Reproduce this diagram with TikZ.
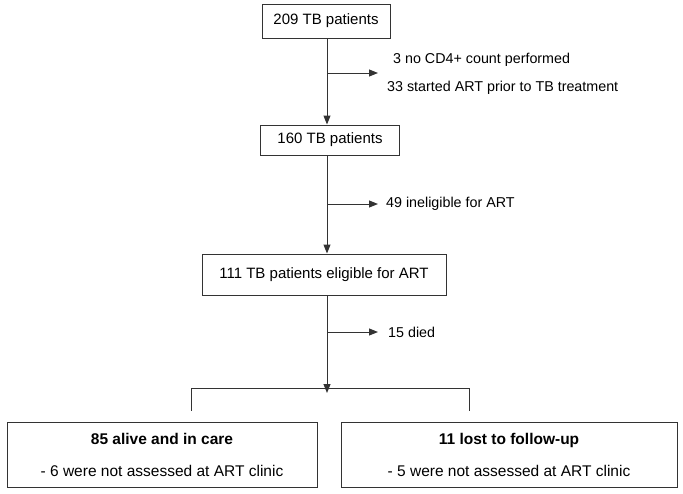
\documentclass[tikz,border=0pt]{standalone}
\usepackage{fontspec}
\setmainfont{Liberation Sans}
\usetikzlibrary{arrows.meta}

\tikzset{
  stagebox/.style={draw=black!80, line width=1pt, inner sep=0pt, font=\fontsize{15}{18}\selectfont},
  outbox/.style={draw=black!80, line width=1pt, inner sep=0pt, align=center, minimum height=65, font=\fontsize{15.5}{19}\selectfont},
  flow/.style={draw=black!80, line width=1pt, -{Triangle[length=9pt,width=7pt]}},
  plain/.style={draw=black!80, line width=1pt},
  exclusion/.style={anchor=west, inner sep=0pt, font=\fontsize{14.3}{17}\selectfont}
}

\begin{document}
\begin{tikzpicture}[x=1pt, y=-1pt]
\useasboundingbox (0, 0) rectangle (683, 493);
%Boxes
\node (n209) [stagebox, minimum width=128, minimum height=34] at (326, 21) {209 TB patients};
\node (n160) [stagebox, minimum width=139, minimum height=30] at (330, 140) {160 TB patients};
\node (n111) [stagebox, minimum width=244, minimum height=41] at (324, 274.5) {111 TB patients eligible for ART};
\node (alive) [outbox, minimum width=310] at (162, 454.5) {\textbf{85 alive and in care}\\[13pt]- 6 were not assessed at ART clinic};
\node (lost) [outbox, minimum width=336] at (509, 454.5) {\textbf{11 lost to follow-up}\\[13pt]- 5 were not assessed at ART clinic};
%Spine
\coordinate (s1) at (327, 73);
\coordinate (e1) at (378, 73);
\coordinate (s2) at (327, 204);
\coordinate (e2) at (378, 204);
\coordinate (s3) at (327, 332);
\coordinate (e3) at (378, 332);
\coordinate (split) at (327, 388);
\coordinate (bl) at (191, 388);
\coordinate (br) at (469, 388);
\draw [flow] (n209.south -| s1) -- (n160.north -| s1);
\draw [flow] (n160.south -| s2) -- (n111.north -| s2);
\draw [flow] (n111.south -| s3) -- ([yshift=-5]split);
\draw [flow] (s1) -- (e1);
\draw [flow] (s2) -- (e2);
\draw [flow] (s3) -- (e3);
%Bracket
\draw [plain] (bl |- alive.north) ++(0, -11) -- (bl) -- (br) -- ++(0, 23);
%Text
\node (cd4) [exclusion] at (393, 60) {3 no CD4+ count performed};
\node (prior) [exclusion] at (387, 88) {33 started ART prior to TB treatment};
\node (inelig) [exclusion] at (386, 204) {49 ineligible for ART};
\node (died) [exclusion] at (388, 332) {15 died};
\end{tikzpicture}
\end{document}
